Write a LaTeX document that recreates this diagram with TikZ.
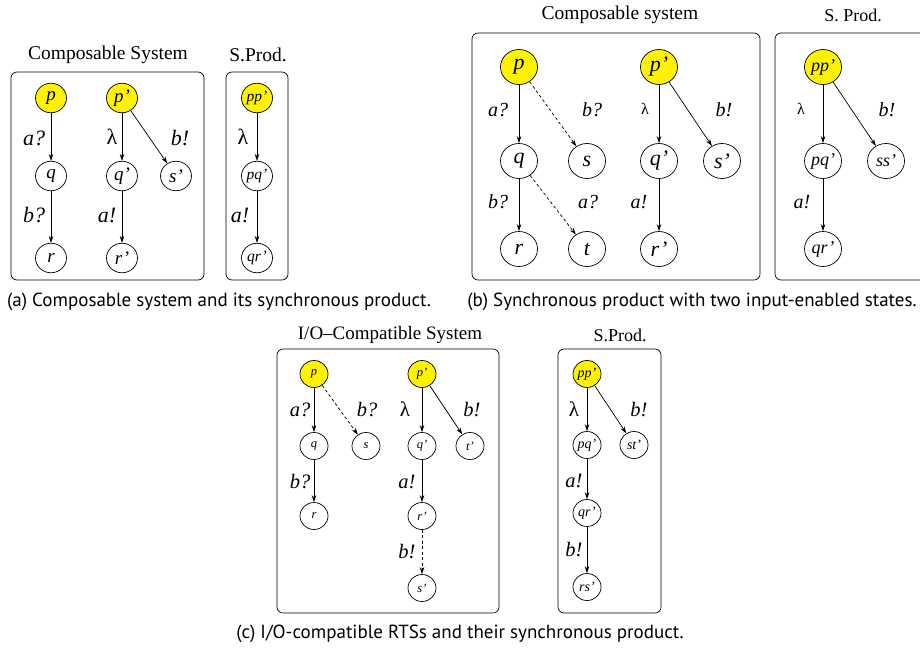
\documentclass[tikz,border=0pt]{standalone}
\usepackage{fontspec}
\setmainfont{Liberation Serif}
\newfontfamily\capfont{PT Sans}
\usetikzlibrary{shapes.geometric,arrows.meta}
\newcommand\myfs[1]{\fontsize{#1}{#1}\selectfont}
\begin{document}
\begin{tikzpicture}[x=1pt,y=-1pt,
  st/.style={draw, ellipse, inner sep=0pt, line width=0.7pt},
  sa/.style={st, minimum width=31pt, minimum height=29.5pt, font=\itshape\myfs{19}},
  saa/.style={sa, font=\itshape\myfs{15.5}},
  sb/.style={st, minimum width=37pt, minimum height=35pt, font=\itshape\myfs{22}},
  sbb/.style={sb, font=\itshape\myfs{18}},
  sc/.style={st, minimum width=28pt, minimum height=27pt, font=\itshape\myfs{12.5}},
  scc/.style={sc, font=\itshape\myfs{14}},
  ini/.style={fill=yellow},
  tr/.style={-{Stealth[length=7pt,width=4.5pt]}, line width=0.7pt},
  dtr/.style={tr, dash pattern=on 3pt off 2.5pt},
  bx/.style={draw, rounded corners=6pt, line width=0.7pt},
  la/.style={inner sep=0pt, font=\itshape\myfs{22}},
  lb/.style={inner sep=0pt, font=\itshape\myfs{20}},
  lc/.style={inner sep=0pt, font=\itshape\myfs{20.5}},
  lam/.style={inner sep=0pt, font=\myfs{#1}},
  ttl/.style={inner sep=0pt, font=\myfs{19.5}},
  captxt/.style={inner sep=0pt, font=\capfont\myfs{19}}
]
\clip (0,0) rectangle (920,651);
% ---------------- panel (a) ----------------
\node[ttl] (ta1) at (108,55) {Composable System};
\node[ttl] (ta2) at (258,55) {S.Prod.};
\draw[bx] (11,72) rectangle (204,280);
\draw[bx] (226,72) rectangle (288,280);
\node[sa,ini] (ap) at (51,98) {p};
\node[sa] (aq) at (51,176) {q};
\node[sa] (ar) at (51,258) {r};
\node[sa,ini] (ap2) at (122,98) {p’};
\node[sa] (aq2) at (122,176) {q’};
\node[sa] (ar2) at (122,258) {r’};
\node[sa] (as2) at (176,176) {s’};
\node[saa,ini] (app) at (257,98) {pp’};
\node[saa] (apq) at (257,176) {pq’};
\node[saa] (aqr) at (257,258) {qr’};
\draw[tr] (ap) -- (aq);
\draw[tr] (aq) -- (ar);
\draw[tr] (ap2) -- (aq2);
\draw[tr] (aq2) -- (ar2);
\draw[tr] (ap2) -- (as2);
\draw[tr] (app) -- (apq);
\draw[tr] (apq) -- (aqr);
\node[la] (la1) at (34,138) {a?};
\node[la] (la2) at (34,215) {b?};
\node[lam=22] (la3) at (112,137) {λ};
\node[la] (la4) at (107,215) {a!};
\node[la] (la5) at (180,138) {b!};
\node[lam=22] (la6) at (243,137) {λ};
\node[la] (la7) at (240,215) {a!};
\node[captxt] (ca) at (219,302) {(a) Composable system and its synchronous product.};
% ---------------- panel (b) ----------------
\node[ttl] (tb1) at (620,15) {Composable system};
\node[ttl,font=\myfs{18}] (tb2) at (853,15) {S. Prod.};
\draw[bx] (472,33) rectangle (760,280);
\draw[bx] (775,33) rectangle (935,280);
\node[sb,ini] (bp) at (519,67) {p};
\node[sb] (bq) at (519,161) {q};
\node[sb] (br) at (519,249) {r};
\node[sb] (bs) at (587,161) {s};
\node[sb] (bt) at (587,249) {t};
\node[sb,ini] (bp2) at (659,67) {p’};
\node[sb] (bq2) at (659,161) {q’};
\node[sb] (br2) at (659,249) {r’};
\node[sb] (bs2) at (722,161) {s’};
\node[sbb,ini] (bpp) at (823,67) {pp’};
\node[sbb] (bpq) at (823,161) {pq’};
\node[sbb] (bqr) at (823,249) {qr’};
\node[sbb] (bss) at (886,161) {ss’};
\draw[tr] (bp) -- (bq);
\draw[dtr] (bp) -- (bs);
\draw[tr] (bq) -- (br);
\draw[dtr] (bq) -- (bt);
\draw[tr] (bp2) -- (bq2);
\draw[tr] (bp2) -- (bs2);
\draw[tr] (bq2) -- (br2);
\draw[tr] (bpp) -- (bpq);
\draw[tr] (bpp) -- (bss);
\draw[tr] (bpq) -- (bqr);
\node[lb] (lb1) at (498,110) {a?};
\node[lb] (lb2) at (592,110) {b?};
\node[lam=16] (lb3) at (645,109) {λ};
\node[lb] (lb4) at (724,110) {b!};
\node[lb] (lb5) at (498,202) {b?};
\node[lb] (lb6) at (588,202) {a?};
\node[lb] (lb7) at (639,202) {a!};
\node[lam=16] (lb8) at (801,109) {λ};
\node[lb] (lb9) at (887,110) {b!};
\node[lb] (lb10) at (802,202) {a!};
\node[captxt] (cb) at (692,302) {(b) Synchronous product with two input-enabled states.};
% ---------------- panel (c) ----------------
\node[ttl,font=\myfs{19}] (tc1) at (390,335) {I/O–Compatible System};
\node[ttl,font=\myfs{18}] (tc2) at (620,335) {S.Prod.};
\draw[bx] (277,349) rectangle (499,613);
\draw[bx] (558,349) rectangle (661,613);
\node[sc,ini] (cp) at (314,374) {p};
\node[sc] (cq) at (314,446) {q};
\node[sc] (cr) at (314,516) {r};
\node[sc] (cs) at (366,446) {s};
\node[sc,ini] (cp2) at (422,374) {p’};
\node[sc] (cq2) at (422,446) {q’};
\node[sc] (cr2) at (422,516) {r’};
\node[sc] (cs2) at (422,588) {s’};
\node[sc] (ct2) at (470,446) {t’};
\node[scc,ini] (cpp) at (587,374) {pp’};
\node[scc] (cpq) at (587,445) {pq’};
\node[scc] (cqr) at (587,513) {qr’};
\node[scc] (crs) at (587,587) {rs’};
\node[scc] (cst) at (634,445) {st’};
\draw[tr] (cp) -- (cq);
\draw[dtr] (cp) -- (cs);
\draw[tr] (cq) -- (cr);
\draw[tr] (cp2) -- (cq2);
\draw[tr] (cp2) -- (ct2);
\draw[tr] (cq2) -- (cr2);
\draw[dtr] (cr2) -- (cs2);
\draw[tr] (cpp) -- (cpq);
\draw[tr] (cpp) -- (cst);
\draw[tr] (cpq) -- (cqr);
\draw[tr] (cqr) -- (crs);
\node[lc] (lc1) at (300,410) {a?};
\node[lc] (lc2) at (367,410) {b?};
\node[lam=21] (lc3) at (405,409) {λ};
\node[lc] (lc4) at (472,410) {b!};
\node[lc] (lc5) at (300,482) {b?};
\node[lc] (lc6) at (407,482) {a!};
\node[lc] (lc7) at (407,552) {b!};
\node[lam=21] (lc8) at (574,409) {λ};
\node[lc] (lc9) at (639,410) {b!};
\node[lc] (lc10) at (574,481) {a!};
\node[lc] (lc11) at (574,550) {b!};
\node[captxt] (cc) at (460,634) {(c) I/O-compatible RTSs and their synchronous product.};
\end{tikzpicture}
\end{document}
